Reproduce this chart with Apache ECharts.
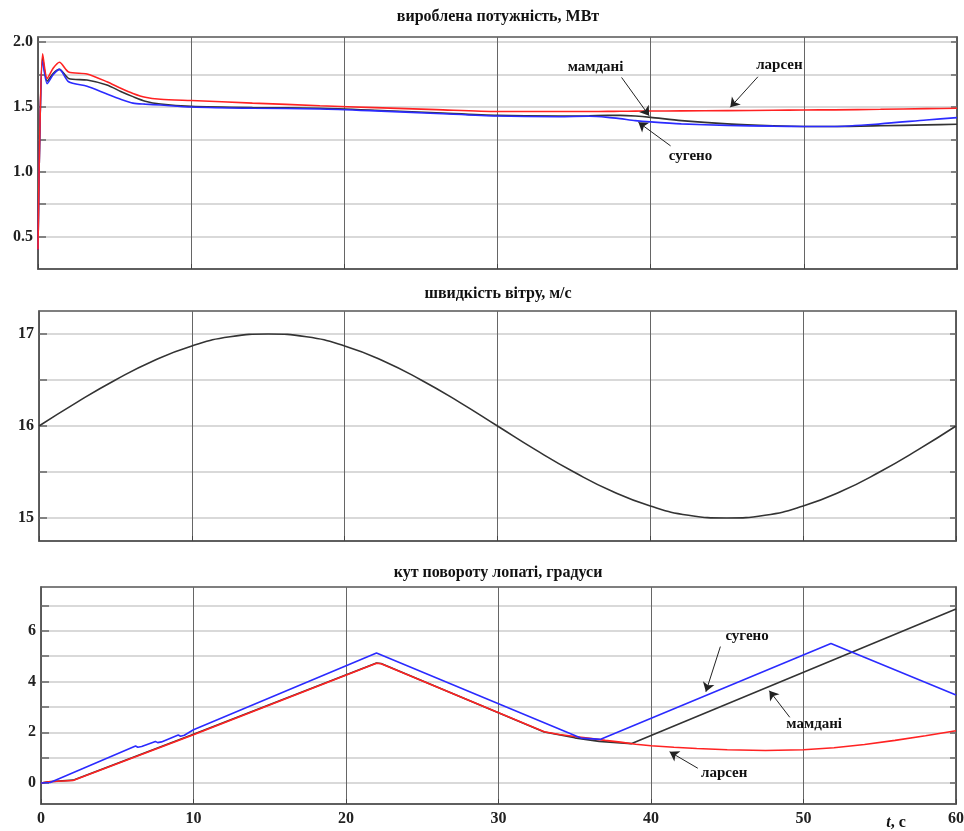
<!DOCTYPE html>
<html><head><meta charset="utf-8">
<script src="https://cdn.jsdelivr.net/npm/echarts@6/dist/echarts.min.js"></script>
<style>html,body{margin:0;padding:0;background:#fff}#c{width:964px;height:831px}</style>
</head><body><div id="c"></div>
<script>
// ---------- DATA ----------
const powerT      = [0, 0.1, 0.3, 0.6, 1.0, 1.4, 2.0, 3.2, 4.5, 5.4, 6.2, 7.0, 8.0, 10, 14, 18.4, 22, 26, 30, 34, 36, 37.2, 38, 39, 40, 42, 45, 48, 50, 52, 55, 58, 60];
const powerLarsen = [0.40, 1.20, 1.91, 1.72, 1.80, 1.845, 1.77, 1.755, 1.695, 1.645, 1.605, 1.575, 1.56, 1.55, 1.53, 1.51, 1.495, 1.48, 1.465, 1.465, 1.465, 1.466, 1.467, 1.468, 1.469, 1.470, 1.472, 1.475, 1.477, 1.478, 1.482, 1.487, 1.490];
const powerMamdani= [0.40, 1.20, 1.88, 1.70, 1.76, 1.79, 1.72, 1.708, 1.67, 1.62, 1.58, 1.545, 1.523, 1.505, 1.495, 1.49, 1.475, 1.455, 1.435, 1.43, 1.432, 1.435, 1.435, 1.43, 1.42, 1.395, 1.37, 1.355, 1.35, 1.35, 1.355, 1.362, 1.367];
const powerSugeno = [0.40, 1.20, 1.855, 1.68, 1.75, 1.79, 1.695, 1.66, 1.60, 1.56, 1.53, 1.522, 1.515, 1.50, 1.49, 1.485, 1.47, 1.45, 1.43, 1.425, 1.428, 1.42, 1.41, 1.395, 1.385, 1.37, 1.358, 1.352, 1.35, 1.35, 1.37, 1.40, 1.418];

const windT = [0, 2.5, 5, 7.5, 10, 12.5, 15, 17.5, 20, 22.5, 25, 27.5, 30, 32.5, 35, 37.5, 40, 42.5, 45, 47.5, 50, 52.5, 55, 57.5, 60];
const windV = [16.0, 16.26, 16.5, 16.71, 16.87, 16.97, 17.0, 16.97, 16.87, 16.71, 16.5, 16.26, 16.0, 15.74, 15.5, 15.29, 15.13, 15.03, 15.0, 15.03, 15.13, 15.29, 15.5, 15.74, 16.0];

const pitchLarsenT  = [0, 0.5, 2.1, 10, 22, 22.3, 33, 34, 35, 36, 37, 38, 39, 40, 41.5, 43, 45, 47.5, 50, 52, 54, 56, 58, 60];
const pitchLarsenV  = [0, 0.05, 0.10, 1.90, 4.72, 4.70, 2.02, 1.91, 1.83, 1.76, 1.68, 1.61, 1.53, 1.47, 1.41, 1.36, 1.31, 1.28, 1.31, 1.39, 1.52, 1.68, 1.86, 2.06];
const pitchMamdaniT = [0, 0.5, 2.1, 10, 22, 22.3, 33, 35, 36.6, 38.7, 60];
const pitchMamdaniV = [0, 0.05, 0.11, 1.92, 4.73, 4.71, 2.01, 1.78, 1.64, 1.55, 6.86];
const pitchSugenoT  = [0, 0.6, 6.2, 6.35, 6.6, 7.5, 7.65, 7.9, 9.0, 9.15, 9.4, 10, 22, 35.4, 36.7, 51.8, 60];
const pitchSugenoV  = [0, 0.02, 1.46, 1.41, 1.44, 1.64, 1.59, 1.62, 1.89, 1.84, 1.88, 2.10, 5.13, 1.77, 1.72, 5.50, 3.47];

const titles = ['вироблена потужність, МВт', 'швидкість вітру, м/с', 'кут повороту лопаті, градуси'];
const xTicks = [0, 10, 20, 30, 40, 50, 60];
const powerGridVals  = [0.5, 0.75, 1.0, 1.25, 1.5, 1.75, 2.0];
const powerLabelVals = [0.5, 1.0, 1.5, 2.0];
const windGridVals   = [15, 15.5, 16, 16.5, 17];
const windLabelVals  = [15, 16, 17];
const pitchGridVals  = [0, 1, 2, 3, 4, 5, 6, 7];
const pitchLabelVals = [0, 2, 4, 6];

// annotations: [label, textT, textV, arrowFromT, arrowFromV, arrowToT, arrowToV]
const powerNotes = [
  ['мамдані', 36.4, 1.808, 38.1, 1.728, 39.9, 1.433],
  ['ларсен',  48.4, 1.823, 47.0, 1.733, 45.2, 1.498],
  ['сугено',  42.6, 1.123, 41.3, 1.200, 39.2, 1.382]
];
const pitchNotes = [
  ['сугено',  46.3, 5.80, 44.55, 5.38, 43.6, 3.60],
  ['мамдані', 50.7, 2.33, 49.1, 2.59, 47.76, 3.64],
  ['ларсен',  44.8, 0.39, 43.07, 0.58, 41.22, 1.23]
];

// ---------- CHART ----------
const zip = (a, b) => a.map((x, i) => [x, b[i]]);
const SERIF = '"Liberation Serif", "DejaVu Serif", serif';
const RED = '#ff2222', BLUE = '#2b2bff', BLACK = '#333333';

const grids = [
  {left: 38, top: 37, width: 919, height: 232},
  {left: 39, top: 311, width: 917, height: 230},
  {left: 41, top: 587, width: 915, height: 217}
].map(g => Object.assign(g, {show: true, borderColor: '#555', borderWidth: 1.5, backgroundColor: 'transparent',
                              containLabel: false, outerBoundsMode: 'none'}));

const yRanges = [[0.25, 2.04], [14.75, 17.25], [-0.83, 7.73]];
const yGrid = [powerGridVals, windGridVals, pitchGridVals];
const yLab = [powerLabelVals, windLabelVals, pitchLabelVals];
const yFmt = [v => v.toFixed(1), v => String(v), v => String(v)];

const xAxis = [0, 1, 2].map(i => ({
  type: 'value', gridIndex: i, min: 0, max: 60, interval: 10,
  axisLine: {show: true, onZero: false, lineStyle: {color: '#555', width: 1.5}},
  axisTick: {show: true, inside: true, length: 5, lineStyle: {color: '#444'}},
  splitLine: {show: true, lineStyle: {color: '#666', width: 1}},
  axisLabel: {show: i === 2, margin: 7, color: '#222', fontFamily: SERIF, fontWeight: 'bold', fontSize: 16,
              customValues: xTicks}
}));

const yAxis = [];
[0, 1, 2].forEach(i => {
  yAxis.push({
    type: 'value', gridIndex: i, min: yRanges[i][0], max: yRanges[i][1],
    axisLine: {show: true, onZero: false, lineStyle: {color: '#555', width: 1.5}},
    axisTick: {show: true, inside: true, length: 8, lineStyle: {color: '#666', width: 1.5}, customValues: yGrid[i]},
    splitLine: {show: true, lineStyle: {color: '#cccccc', width: 1.5}},
    axisLabel: {show: true, margin: 5, color: '#222', fontFamily: SERIF, fontWeight: 'bold', fontSize: 16,
                customValues: yLab[i], formatter: yFmt[i]}
  });
});
[0, 1, 2].forEach(i => {
  yAxis.push({
    type: 'value', gridIndex: i, min: yRanges[i][0], max: yRanges[i][1], position: 'right',
    axisLine: {show: true, onZero: false, lineStyle: {color: '#555', width: 1.5}},
    axisTick: {show: true, inside: true, length: 6, lineStyle: {color: '#666', width: 1.5}, customValues: yGrid[i]},
    splitLine: {show: false}, axisLabel: {show: false}
  });
});

function noteMarks(notes) {
  return {
    markLine: {
      silent: true, animation: false, symbol: ['none', 'arrow'], symbolSize: 9,
      label: {show: false},
      lineStyle: {color: '#222', width: 1, type: 'solid'},
      itemStyle: {color: '#222'},
      emphasis: {disabled: true},
      data: notes.map(n => [{coord: [n[3], n[4]]}, {coord: [n[5], n[6]]}])
    },
    markPoint: {
      silent: true, animation: false, symbol: 'circle', symbolSize: 1,
      itemStyle: {color: 'rgba(0,0,0,0)'},
      label: {show: true, position: 'inside', color: '#111', fontFamily: SERIF, fontWeight: 'bold', fontSize: 15,
              formatter: p => p.name},
      data: notes.map(n => ({name: n[0], coord: [n[1], n[2]]}))
    }
  };
}

const line = (name, data, color, xi, extra) => Object.assign({
  type: 'line', name, data, xAxisIndex: xi, yAxisIndex: xi, showSymbol: false, symbol: 'none',
  smooth: 0.25, animation: false, clip: true,
  lineStyle: {color, width: 1.6}, itemStyle: {color}
}, extra || {});

const series = [
  line('мамдані', zip(powerT, powerMamdani), BLACK, 0),
  line('сугено', zip(powerT, powerSugeno), BLUE, 0),
  line('ларсен', zip(powerT, powerLarsen), RED, 0, noteMarks(powerNotes)),
  line('вітер', zip(windT, windV), BLACK, 1, {smooth: true}),
  line('мамдані', zip(pitchMamdaniT, pitchMamdaniV), BLACK, 2, {smooth: false}),
  line('ларсен', zip(pitchLarsenT, pitchLarsenV), RED, 2, {smooth: false}),
  line('сугено', zip(pitchSugenoT, pitchSugenoV), BLUE, 2, Object.assign({smooth: false}, noteMarks(pitchNotes)))
];

const graphic = [
  {type: 'text', x: 498, y: 17, style: {text: titles[0], font: 'bold 16px ' + SERIF, fill: '#111', align: 'center', verticalAlign: 'middle'}},
  {type: 'text', x: 498, y: 294, style: {text: titles[1], font: 'bold 16px ' + SERIF, fill: '#111', align: 'center', verticalAlign: 'middle'}},
  {type: 'text', x: 498, y: 573, style: {text: titles[2], font: 'bold 16px ' + SERIF, fill: '#111', align: 'center', verticalAlign: 'middle'}},
  {type: 'text', x: 896, y: 823, style: {text: '{i|t}, с', align: 'center', verticalAlign: 'middle',
     font: 'bold 16px ' + SERIF, fill: '#111',
     rich: {i: {fontStyle: 'italic', fontWeight: 'bold', fontSize: 16, fontFamily: SERIF, fill: '#111'}}}}
];

const chart = echarts.init(document.getElementById('c'), null, {renderer: 'canvas'});
chart.setOption({backgroundColor: '#fff', animation: false, grid: grids, xAxis, yAxis, series, graphic});
</script></body></html>
